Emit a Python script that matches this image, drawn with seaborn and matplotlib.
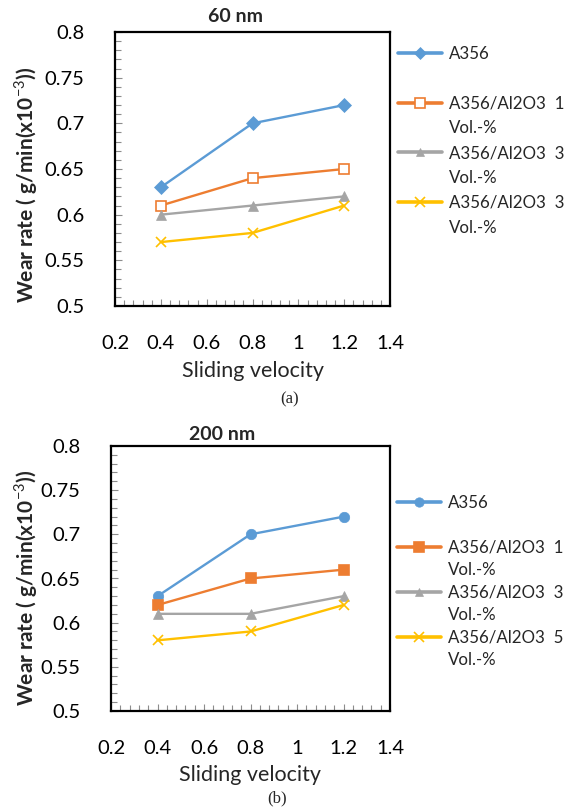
import numpy as np
import matplotlib
matplotlib.use("Agg")
import matplotlib.pyplot as plt
from matplotlib.lines import Line2D
from matplotlib.ticker import MultipleLocator
import seaborn as sns
import pandas as pd

velocity = [0.4, 0.8, 1.2]

# panel (a) 60 nm
a_base = [0.63, 0.70, 0.72]
a_1vol = [0.61, 0.64, 0.65]
a_3vol = [0.60, 0.61, 0.62]
a_5vol = [0.57, 0.58, 0.61]
a_labels = ["A356", "A356/Al2O3  1", "A356/Al2O3  3", "A356/Al2O3  3"]

# panel (b) 200 nm
b_base = [0.63, 0.70, 0.72]
b_1vol = [0.62, 0.65, 0.66]
b_3vol = [0.61, 0.61, 0.63]
b_5vol = [0.58, 0.59, 0.62]
b_labels = ["A356", "A356/Al2O3  1", "A356/Al2O3  3", "A356/Al2O3  5"]

colors = ["#5B9BD5", "#ED7D31", "#A5A5A5", "#FFC000"]

sns.set_theme(style="white")
plt.rcParams['font.family'] = ['Lato', 'DejaVu Sans']
plt.rcParams['mathtext.fontset'] = 'custom'
plt.rcParams['mathtext.rm'] = 'Lato'
plt.rcParams['mathtext.bf'] = 'Lato:bold'

W, H = 574, 809
fig = plt.figure(figsize=(W / 100, H / 100), dpi=100)


def px_axes(x0, y0, x1, y1):
    return fig.add_axes([x0 / W, 1 - y1 / H, (x1 - x0) / W, (y1 - y0) / H])


def draw_panel(ax, series, labels, markers, facecolors, sizes):
    for vals, lab, c, m, fc, ms in zip(series, labels, colors, markers, facecolors, sizes):
        df = pd.DataFrame({"v": velocity, "w": vals})
        sns.lineplot(data=df, x="v", y="w", ax=ax, color=c, marker=m,
                     markersize=ms, markerfacecolor=fc if fc else c,
                     markeredgecolor=c, markeredgewidth=1.2 if m in ("x", "s") else 0.5,
                     linewidth=1.7, legend=False)
    ax.set_xlim(0.2, 1.4)
    ax.set_ylim(0.5, 0.8)
    ax.xaxis.set_major_locator(MultipleLocator(0.2))
    ax.xaxis.set_minor_locator(MultipleLocator(0.04))
    ax.yaxis.set_major_locator(MultipleLocator(0.05))
    ax.yaxis.set_minor_locator(MultipleLocator(0.01))
    ax.xaxis.set_major_formatter(matplotlib.ticker.FuncFormatter(lambda v, p: f"{v:g}"))
    ax.yaxis.set_major_formatter(matplotlib.ticker.FuncFormatter(lambda v, p: f"{v:g}"))
    ax.tick_params(which="both", direction="in", color="#8c8c8c", width=0.8,
                   bottom=True, left=True, top=False, right=False)
    ax.tick_params(which="major", length=5, labelsize=14.5, labelcolor="black")
    ax.tick_params(which="minor", length=4)
    ax.tick_params(axis="x", which="major", pad=21)
    ax.tick_params(axis="y", which="major", pad=22)
    for s in ax.spines.values():
        s.set_color("black")
        s.set_linewidth(1.6)
    ax.set_xlabel("")
    ax.set_ylabel("")


def draw_legend(ax, labels, x, y, spacing):
    lines = ax.get_lines()
    blank = Line2D([], [], linestyle="none", marker="none")
    handles, texts = [], []
    for i, (ln, lab) in enumerate(zip(lines, labels)):
        h = Line2D([], [], color=ln.get_color(), linewidth=2.6, marker=ln.get_marker(),
                   markersize=ln.get_markersize() * 0.9, markerfacecolor=ln.get_markerfacecolor(),
                   markeredgecolor=ln.get_markeredgecolor(), markeredgewidth=ln.get_markeredgewidth())
        handles += [h, blank]
        texts += [lab, " " if i == 0 else "Vol.-%"]
    fig.legend(handles, texts, loc="upper left", bbox_to_anchor=(x / W, 1 - y / H),
               frameon=False, fontsize=12.2, handlelength=2.6, handletextpad=0.4,
               labelspacing=spacing, borderpad=0, borderaxespad=0)


ylab = "Wear rate ( g/min(x10$^{-3}$))"

# --- panel (a)
ax1 = px_axes(115, 32, 390, 306)
draw_panel(ax1, [a_base, a_1vol, a_3vol, a_5vol], a_labels,
           ["D", "s", "^", "x"], [None, "white", None, None], [7.2, 7.5, 7, 7.5])
draw_legend(ax1, a_labels, 398, 46, 0.52)
fig.text(236 / W, 1 - 17 / H, "60 nm", ha="center", va="center", fontsize=14, fontweight="bold")
fig.text(26 / W, 1 - 185 / H, ylab, rotation=90, ha="center", va="center", fontsize=15, fontweight="bold")
fig.text(253 / W, 1 - 371 / H, "Sliding velocity", ha="center", va="center", fontsize=15.5)
fig.text(290 / W, 1 - 399 / H, "(a)", ha="center", va="center", fontsize=12, family="Liberation Serif")

# --- panel (b)
ax2 = px_axes(111, 446, 390, 711)
draw_panel(ax2, [b_base, b_1vol, b_3vol, b_5vol], b_labels,
           ["o", "s", "^", "x"], [None, None, None, None], [7.5, 7.5, 7, 7.5])
draw_legend(ax2, b_labels, 397, 495, 0.38)
fig.text(222 / W, 1 - 434 / H, "200 nm", ha="center", va="center", fontsize=14, fontweight="bold")
fig.text(26 / W, 1 - 588 / H, ylab, rotation=90, ha="center", va="center", fontsize=15, fontweight="bold")
fig.text(250 / W, 1 - 775 / H, "Sliding velocity", ha="center", va="center", fontsize=15.5)
fig.text(277 / W, 1 - 798 / H, "(b)", ha="center", va="center", fontsize=12, family="Liberation Serif")

fig.savefig("out.png", dpi=100, facecolor="white")
